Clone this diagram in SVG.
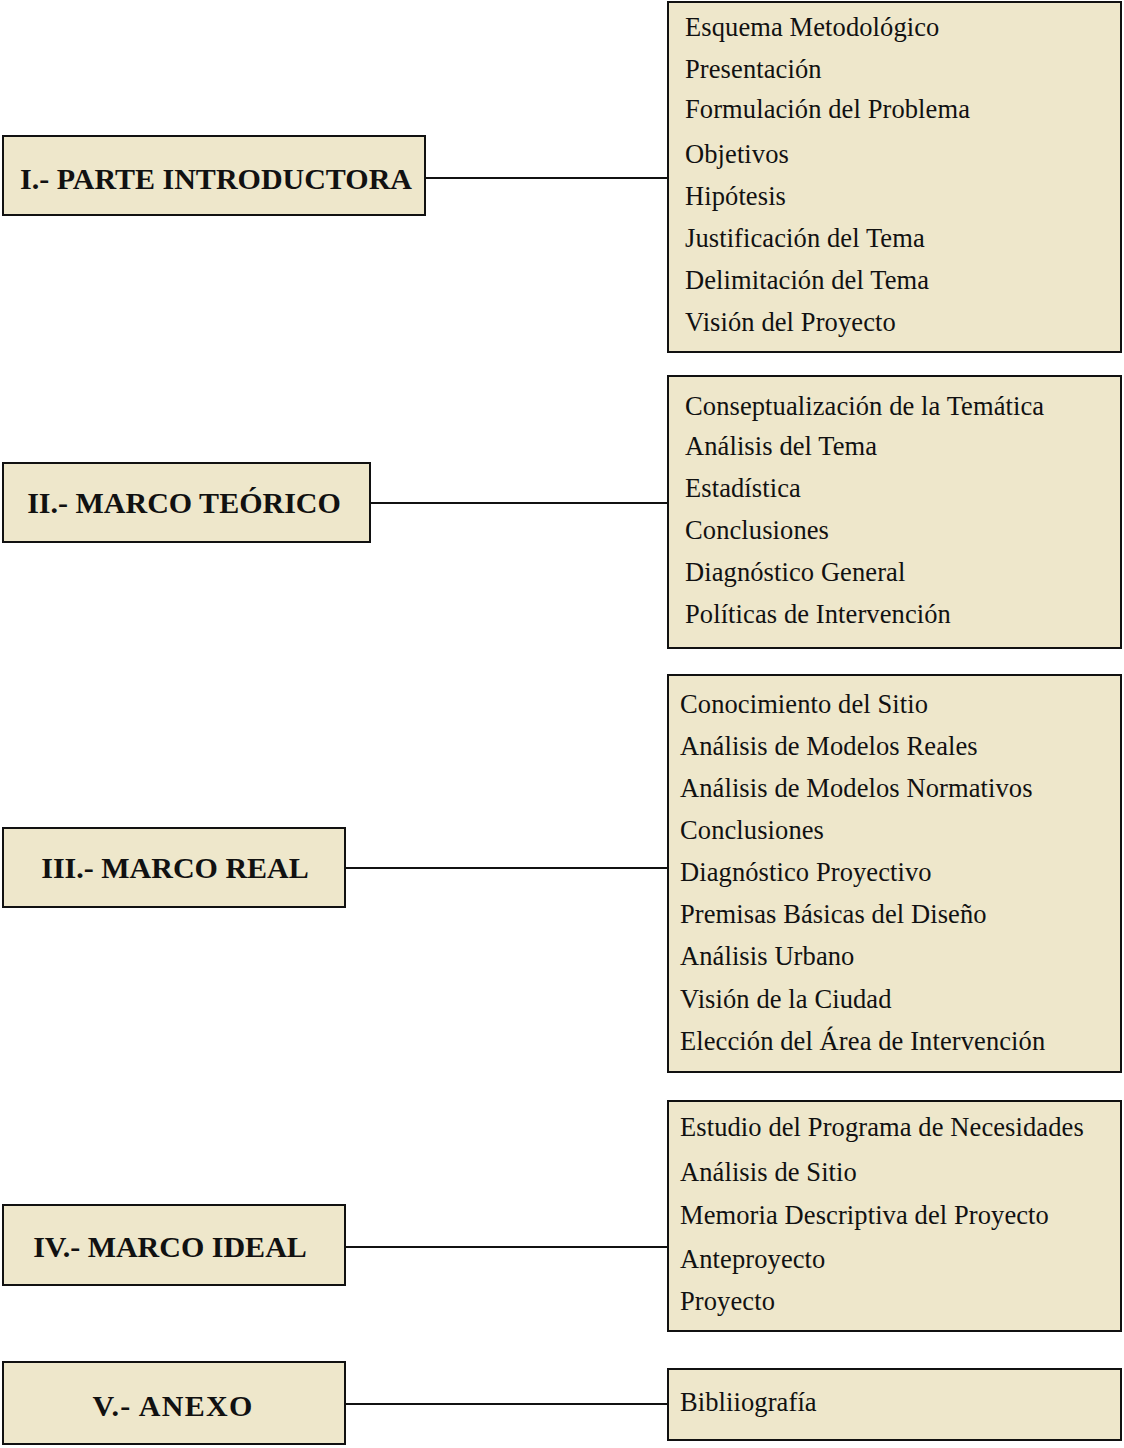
<svg xmlns="http://www.w3.org/2000/svg" width="1124" height="1448" viewBox="0 0 1124 1448">
<style>
.box{fill:#EEE7CB;stroke:#111;stroke-width:2}
.t{font-family:"Liberation Serif","Times New Roman",serif;font-size:26.5px;letter-spacing:0.1px;fill:#111}
.h{font-family:"Liberation Serif","Times New Roman",serif;font-size:30px;font-weight:bold;fill:#111;text-anchor:middle}
.c{stroke:#111;stroke-width:2;fill:none}
</style>
<rect width="1124" height="1448" fill="#fff"/>
<g id="connectors">
<line class="c" x1="425" y1="178" x2="668" y2="178"/>
<line class="c" x1="370" y1="503" x2="668" y2="503"/>
<line class="c" x1="345" y1="868" x2="668" y2="868"/>
<line class="c" x1="345" y1="1247" x2="668" y2="1247"/>
<line class="c" x1="345" y1="1404" x2="668" y2="1404"/>
</g>
<g id="n1"><rect class="box" x="3" y="136" width="422" height="79"/><text class="h" x="216" y="189">I.- PARTE INTRODUCTORA</text></g>
<g id="n2"><rect class="box" x="3" y="463" width="367" height="79"/><text class="h" x="184" y="513">II.- MARCO TEÓRICO</text></g>
<g id="n3"><rect class="box" x="3" y="828" width="342" height="79"/><text class="h" x="175" y="878">III.- MARCO REAL</text></g>
<g id="n4"><rect class="box" x="3" y="1205" width="342" height="80"/><text class="h" x="170" y="1257">IV.- MARCO IDEAL</text></g>
<g id="n5"><rect class="box" x="3" y="1362" width="342" height="82"/><text class="h" x="173" y="1416" style="letter-spacing:1.3px">V.- ANEXO</text></g>
<g id="d1"><rect class="box" x="668" y="2" width="453" height="350"/>
<text class="t" x="685" y="36">Esquema Metodológico</text>
<text class="t" x="685" y="78">Presentación</text>
<text class="t" x="685" y="118">Formulación del Problema</text>
<text class="t" x="685" y="163">Objetivos</text>
<text class="t" x="685" y="205">Hipótesis</text>
<text class="t" x="685" y="247">Justificación del Tema</text>
<text class="t" x="685" y="289">Delimitación del Tema</text>
<text class="t" x="685" y="331">Visión del Proyecto</text>
</g>
<g id="d2"><rect class="box" x="668" y="376" width="453" height="272"/>
<text class="t" x="685" y="415">Conseptualización de la Temática</text>
<text class="t" x="685" y="455">Análisis del Tema</text>
<text class="t" x="685" y="497">Estadística</text>
<text class="t" x="685" y="539">Conclusiones</text>
<text class="t" x="685" y="581">Diagnóstico General</text>
<text class="t" x="685" y="623">Políticas de Intervención</text>
</g>
<g id="d3"><rect class="box" x="668" y="675" width="453" height="397"/>
<text class="t" x="680" y="713">Conocimiento del Sitio</text>
<text class="t" x="680" y="755">Análisis de Modelos Reales</text>
<text class="t" x="680" y="797">Análisis de Modelos Normativos</text>
<text class="t" x="680" y="839">Conclusiones</text>
<text class="t" x="680" y="881">Diagnóstico Proyectivo</text>
<text class="t" x="680" y="923">Premisas Básicas del Diseño</text>
<text class="t" x="680" y="965">Análisis Urbano</text>
<text class="t" x="680" y="1008">Visión de la Ciudad</text>
<text class="t" x="680" y="1050">Elección del Área de Intervención</text>
</g>
<g id="d4"><rect class="box" x="668" y="1101" width="453" height="230"/>
<text class="t" x="680" y="1136">Estudio del Programa de Necesidades</text>
<text class="t" x="680" y="1181">Análisis de Sitio</text>
<text class="t" x="680" y="1224">Memoria Descriptiva del Proyecto</text>
<text class="t" x="680" y="1268">Anteproyecto</text>
<text class="t" x="680" y="1310">Proyecto</text>
</g>
<g id="d5"><rect class="box" x="668" y="1369" width="453" height="71"/>
<text class="t" x="680" y="1411">Bibliiografía</text>
</g>
</svg>
